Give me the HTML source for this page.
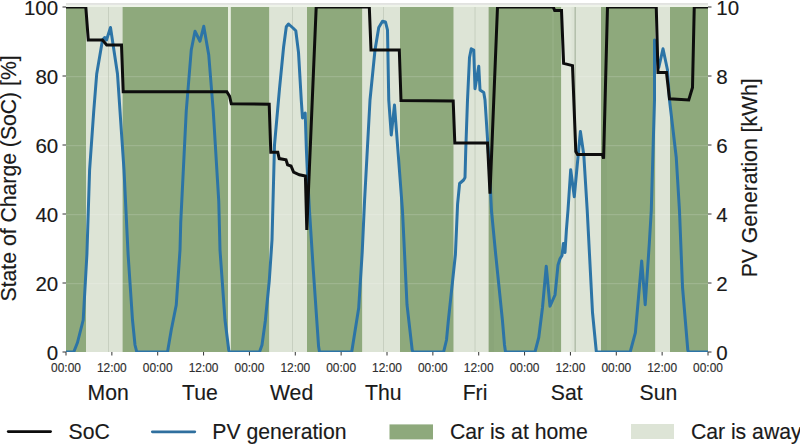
<!DOCTYPE html><html><head><meta charset="utf-8"><title>SoC and PV generation</title><style>
html,body{margin:0;padding:0;background:#fff;}
body{width:800px;height:444px;overflow:hidden;position:relative;}
svg{position:absolute;left:0;top:0;font-family:"Liberation Sans",sans-serif;}
</style></head><body>
<svg width="800" height="444" viewBox="0 0 800 444">
<rect x="0" y="0" width="800" height="444" fill="#ffffff"/>
<rect x="66" y="7.0" width="20.00" height="345.0" fill="#8ea97c"/>
<rect x="86" y="7.0" width="36.50" height="345.0" fill="#dde4d6"/>
<rect x="122.5" y="7.0" width="105.50" height="345.0" fill="#8ea97c"/>
<rect x="228" y="7.0" width="2.80" height="345.0" fill="#e8eedf"/>
<rect x="230.8" y="7.0" width="38.70" height="345.0" fill="#8ea97c"/>
<rect x="269.5" y="7.0" width="37.50" height="345.0" fill="#dde4d6"/>
<rect x="307" y="7.0" width="55.50" height="345.0" fill="#8ea97c"/>
<rect x="362.5" y="7.0" width="37.50" height="345.0" fill="#dde4d6"/>
<rect x="400" y="7.0" width="53.75" height="345.0" fill="#8ea97c"/>
<rect x="453.75" y="7.0" width="35.00" height="345.0" fill="#dde4d6"/>
<rect x="488.75" y="7.0" width="72.75" height="345.0" fill="#8ea97c"/>
<rect x="561.5" y="7.0" width="40.00" height="345.0" fill="#dde4d6"/>
<rect x="601.5" y="7.0" width="54.00" height="345.0" fill="#8ea97c"/>
<rect x="655.5" y="7.0" width="14.50" height="345.0" fill="#dde4d6"/>
<rect x="670" y="7.0" width="38.00" height="345.0" fill="#8ea97c"/>
<rect x="488.75" y="7.0" width="5.25" height="345.0" fill="#8aa579"/>
<rect x="601" y="7.0" width="6.00" height="345.0" fill="#8aa579"/>
<rect x="561.5" y="7.0" width="10" height="345.0" fill="#e2e8db"/>
<line x1="553" y1="7.0" x2="553" y2="352.0" stroke="#ffffff" stroke-opacity="0.12" stroke-width="1"/>
<rect x="66" y="4.8" width="642" height="2.2" fill="#eef3e9"/>
<rect x="66" y="3" width="642" height="1.9" fill="#e2e3e0"/>
<line x1="66.0" y1="283.70" x2="708.0" y2="283.70" stroke="#ffffff" stroke-opacity="0.18" stroke-width="1"/>
<line x1="66.0" y1="214.70" x2="708.0" y2="214.70" stroke="#ffffff" stroke-opacity="0.18" stroke-width="1"/>
<line x1="66.0" y1="145.70" x2="708.0" y2="145.70" stroke="#ffffff" stroke-opacity="0.18" stroke-width="1"/>
<line x1="66.0" y1="76.70" x2="708.0" y2="76.70" stroke="#ffffff" stroke-opacity="0.18" stroke-width="1"/>
<line x1="108.5" y1="7.0" x2="108.5" y2="352.0" stroke="#b9c2b0" stroke-opacity="0.6" stroke-width="1"/>
<line x1="292.5" y1="7.0" x2="292.5" y2="352.0" stroke="#b9c2b0" stroke-opacity="0.6" stroke-width="1"/>
<line x1="383.5" y1="7.0" x2="383.5" y2="352.0" stroke="#b9c2b0" stroke-opacity="0.6" stroke-width="1"/>
<line x1="475" y1="7.0" x2="475" y2="352.0" stroke="#b9c2b0" stroke-opacity="0.6" stroke-width="1"/>
<line x1="575.2" y1="7.0" x2="575.2" y2="352.0" stroke="#a3b09a" stroke-opacity="0.85" stroke-width="1.3"/>
<defs><clipPath id="pa"><rect x="66.0" y="7.0" width="642.0" height="345.0"/></clipPath></defs>
<g clip-path="url(#pa)">
<polyline points="66.00,352.00 73.75,352.00 77.50,342.50 83.20,320.00 86.90,254.50 89.60,170.00 93.75,111.00 96.70,74.00 102.50,40.00 104.70,37.50 106.50,40.00 110.50,27.50 117.50,74.00 120.00,111.00 124.00,170.00 128.10,254.50 132.50,320.00 135.00,345.00 136.80,352.00 167.50,352.00 171.25,330.00 176.25,305.00 180.00,250.00 180.75,222.00 186.25,111.00 191.25,50.00 195.00,31.25 200.00,41.25 203.75,26.25 208.75,55.00 213.25,111.00 218.75,201.00 220.00,250.00 225.00,320.00 228.75,350.00 229.50,352.00 259.50,352.00 262.00,345.00 265.30,321.00 269.30,280.50 272.00,240.00 274.50,145.00 279.60,87.60 283.60,47.00 286.30,26.80 288.50,24.00 293.00,28.00 295.80,30.80 298.50,52.40 301.30,100.60 302.50,118.00 305.20,113.00 306.40,150.00 307.50,175.00 309.50,211.00 313.30,270.00 318.60,346.60 319.50,352.00 351.70,352.00 358.70,308.00 362.20,252.40 364.60,200.00 370.00,100.00 375.00,50.00 378.75,27.50 382.50,21.25 385.50,22.00 387.50,30.00 388.75,100.00 391.25,135.00 394.50,105.00 402.50,211.00 407.00,304.70 412.20,350.00 413.00,352.00 443.60,352.00 446.50,340.00 448.40,320.00 455.40,254.50 457.60,203.80 459.60,183.50 463.60,180.00 465.00,177.50 465.75,150.00 467.50,100.00 469.50,57.50 471.25,48.75 473.75,50.00 475.00,88.75 478.75,66.25 480.00,90.00 483.75,92.50 485.00,100.00 489.50,170.00 491.50,211.00 495.70,254.50 502.40,320.00 504.50,345.00 505.50,352.00 535.00,352.00 538.75,337.50 542.50,307.50 546.25,266.25 550.00,306.25 555.00,295.00 558.00,265.00 560.00,258.75 562.00,255.40 563.40,243.40 565.00,252.40 566.40,230.00 568.00,210.00 570.70,169.70 574.30,196.70 580.40,131.40 583.80,155.00 587.20,210.00 592.50,312.50 596.25,351.00 597.00,352.00 630.20,352.00 635.40,332.70 641.70,261.00 645.20,304.70 649.40,242.00 651.25,211.00 654.50,100.00 654.50,40.00 658.75,67.50 663.00,48.75 667.50,70.00 669.50,100.00 676.25,157.50 679.50,211.00 682.50,287.00 687.80,350.00 688.50,352.00 708.00,352.00" fill="none" stroke="#2c74a6" stroke-width="3" stroke-linejoin="round" stroke-linecap="round"/>
<polyline points="66.00,7.00 85.80,7.00 88.30,40.00 102.50,40.00 106.70,45.00 121.50,45.00 123.20,91.70 226.80,91.70 229.50,96.00 231.30,103.80 269.20,104.20 270.80,152.20 277.80,152.30 279.20,158.60 286.00,159.80 287.60,164.80 291.00,166.00 293.60,172.20 299.40,174.80 305.40,176.00 306.80,230.00 316.20,7.00 369.30,7.00 371.00,50.00 399.30,50.00 401.00,100.50 453.20,101.00 454.80,143.00 487.50,143.00 490.00,193.80 497.50,7.00 553.20,7.00 554.70,10.50 561.50,10.50 563.60,63.40 572.50,65.60 575.80,151.50 577.50,154.50 602.50,154.50 603.60,158.60 607.50,7.00 656.25,7.00 658.00,72.50 666.50,72.50 669.50,98.80 688.75,100.00 692.50,87.50 694.25,7.00 708.00,7.00" fill="none" stroke="#0d0d0d" stroke-width="3" stroke-linejoin="miter" stroke-miterlimit="2"/>
</g>
<line x1="62.5" y1="352.00" x2="66.0" y2="352.00" stroke="#333" stroke-width="1"/>
<line x1="708.0" y1="352.00" x2="711.5" y2="352.00" stroke="#333" stroke-width="1"/>
<line x1="62.5" y1="283.00" x2="66.0" y2="283.00" stroke="#333" stroke-width="1"/>
<line x1="708.0" y1="283.00" x2="711.5" y2="283.00" stroke="#333" stroke-width="1"/>
<line x1="62.5" y1="214.00" x2="66.0" y2="214.00" stroke="#333" stroke-width="1"/>
<line x1="708.0" y1="214.00" x2="711.5" y2="214.00" stroke="#333" stroke-width="1"/>
<line x1="62.5" y1="145.00" x2="66.0" y2="145.00" stroke="#333" stroke-width="1"/>
<line x1="708.0" y1="145.00" x2="711.5" y2="145.00" stroke="#333" stroke-width="1"/>
<line x1="62.5" y1="76.00" x2="66.0" y2="76.00" stroke="#333" stroke-width="1"/>
<line x1="708.0" y1="76.00" x2="711.5" y2="76.00" stroke="#333" stroke-width="1"/>
<line x1="62.5" y1="7.00" x2="66.0" y2="7.00" stroke="#333" stroke-width="1"/>
<line x1="708.0" y1="7.00" x2="711.5" y2="7.00" stroke="#333" stroke-width="1"/>
<line x1="66.00" y1="352.0" x2="66.00" y2="355.5" stroke="#333" stroke-width="1"/>
<line x1="111.86" y1="352.0" x2="111.86" y2="355.5" stroke="#333" stroke-width="1"/>
<line x1="157.71" y1="352.0" x2="157.71" y2="355.5" stroke="#333" stroke-width="1"/>
<line x1="203.57" y1="352.0" x2="203.57" y2="355.5" stroke="#333" stroke-width="1"/>
<line x1="249.43" y1="352.0" x2="249.43" y2="355.5" stroke="#333" stroke-width="1"/>
<line x1="295.29" y1="352.0" x2="295.29" y2="355.5" stroke="#333" stroke-width="1"/>
<line x1="341.14" y1="352.0" x2="341.14" y2="355.5" stroke="#333" stroke-width="1"/>
<line x1="387.00" y1="352.0" x2="387.00" y2="355.5" stroke="#333" stroke-width="1"/>
<line x1="432.86" y1="352.0" x2="432.86" y2="355.5" stroke="#333" stroke-width="1"/>
<line x1="478.71" y1="352.0" x2="478.71" y2="355.5" stroke="#333" stroke-width="1"/>
<line x1="524.57" y1="352.0" x2="524.57" y2="355.5" stroke="#333" stroke-width="1"/>
<line x1="570.43" y1="352.0" x2="570.43" y2="355.5" stroke="#333" stroke-width="1"/>
<line x1="616.29" y1="352.0" x2="616.29" y2="355.5" stroke="#333" stroke-width="1"/>
<line x1="662.14" y1="352.0" x2="662.14" y2="355.5" stroke="#333" stroke-width="1"/>
<line x1="708.00" y1="352.0" x2="708.00" y2="355.5" stroke="#333" stroke-width="1"/>
<text x="58.20" y="359.84" font-size="20.5" text-anchor="end" fill="#1a1a1a" stroke="#1a1a1a" stroke-width="0.15" >0</text>
<text x="58.20" y="290.84" font-size="20.5" text-anchor="end" fill="#1a1a1a" stroke="#1a1a1a" stroke-width="0.15" >20</text>
<text x="58.20" y="221.84" font-size="20.5" text-anchor="end" fill="#1a1a1a" stroke="#1a1a1a" stroke-width="0.15" >40</text>
<text x="58.20" y="152.84" font-size="20.5" text-anchor="end" fill="#1a1a1a" stroke="#1a1a1a" stroke-width="0.15" >60</text>
<text x="58.20" y="83.84" font-size="20.5" text-anchor="end" fill="#1a1a1a" stroke="#1a1a1a" stroke-width="0.15" >80</text>
<text x="58.20" y="14.84" font-size="20.5" text-anchor="end" fill="#1a1a1a" stroke="#1a1a1a" stroke-width="0.15" >100</text>
<text x="716.30" y="359.84" font-size="20.5" text-anchor="start" fill="#1a1a1a" stroke="#1a1a1a" stroke-width="0.15" >0</text>
<text x="716.30" y="290.84" font-size="20.5" text-anchor="start" fill="#1a1a1a" stroke="#1a1a1a" stroke-width="0.15" >2</text>
<text x="716.30" y="221.84" font-size="20.5" text-anchor="start" fill="#1a1a1a" stroke="#1a1a1a" stroke-width="0.15" >4</text>
<text x="716.30" y="152.84" font-size="20.5" text-anchor="start" fill="#1a1a1a" stroke="#1a1a1a" stroke-width="0.15" >6</text>
<text x="716.30" y="83.84" font-size="20.5" text-anchor="start" fill="#1a1a1a" stroke="#1a1a1a" stroke-width="0.15" >8</text>
<text x="716.30" y="14.84" font-size="20.5" text-anchor="start" fill="#1a1a1a" stroke="#1a1a1a" stroke-width="0.15" >10</text>
<text x="66.00" y="371.50" font-size="11.9" text-anchor="middle" fill="#2e2e2e" stroke="#2e2e2e" stroke-width="0.15" >00:00</text>
<text x="111.86" y="371.50" font-size="11.9" text-anchor="middle" fill="#2e2e2e" stroke="#2e2e2e" stroke-width="0.15" >12:00</text>
<text x="157.71" y="371.50" font-size="11.9" text-anchor="middle" fill="#2e2e2e" stroke="#2e2e2e" stroke-width="0.15" >00:00</text>
<text x="203.57" y="371.50" font-size="11.9" text-anchor="middle" fill="#2e2e2e" stroke="#2e2e2e" stroke-width="0.15" >12:00</text>
<text x="249.43" y="371.50" font-size="11.9" text-anchor="middle" fill="#2e2e2e" stroke="#2e2e2e" stroke-width="0.15" >00:00</text>
<text x="295.29" y="371.50" font-size="11.9" text-anchor="middle" fill="#2e2e2e" stroke="#2e2e2e" stroke-width="0.15" >12:00</text>
<text x="341.14" y="371.50" font-size="11.9" text-anchor="middle" fill="#2e2e2e" stroke="#2e2e2e" stroke-width="0.15" >00:00</text>
<text x="387.00" y="371.50" font-size="11.9" text-anchor="middle" fill="#2e2e2e" stroke="#2e2e2e" stroke-width="0.15" >12:00</text>
<text x="432.86" y="371.50" font-size="11.9" text-anchor="middle" fill="#2e2e2e" stroke="#2e2e2e" stroke-width="0.15" >00:00</text>
<text x="478.71" y="371.50" font-size="11.9" text-anchor="middle" fill="#2e2e2e" stroke="#2e2e2e" stroke-width="0.15" >12:00</text>
<text x="524.57" y="371.50" font-size="11.9" text-anchor="middle" fill="#2e2e2e" stroke="#2e2e2e" stroke-width="0.15" >00:00</text>
<text x="570.43" y="371.50" font-size="11.9" text-anchor="middle" fill="#2e2e2e" stroke="#2e2e2e" stroke-width="0.15" >12:00</text>
<text x="616.29" y="371.50" font-size="11.9" text-anchor="middle" fill="#2e2e2e" stroke="#2e2e2e" stroke-width="0.15" >00:00</text>
<text x="662.14" y="371.50" font-size="11.9" text-anchor="middle" fill="#2e2e2e" stroke="#2e2e2e" stroke-width="0.15" >12:00</text>
<text x="708.00" y="371.50" font-size="11.9" text-anchor="middle" fill="#2e2e2e" stroke="#2e2e2e" stroke-width="0.15" >00:00</text>
<text x="108.16" y="400.20" font-size="21.2" text-anchor="middle" fill="#1a1a1a" stroke="#1a1a1a" stroke-width="0.15" >Mon</text>
<text x="199.87" y="400.20" font-size="21.2" text-anchor="middle" fill="#1a1a1a" stroke="#1a1a1a" stroke-width="0.15" >Tue</text>
<text x="291.59" y="400.20" font-size="21.2" text-anchor="middle" fill="#1a1a1a" stroke="#1a1a1a" stroke-width="0.15" >Wed</text>
<text x="383.30" y="400.20" font-size="21.2" text-anchor="middle" fill="#1a1a1a" stroke="#1a1a1a" stroke-width="0.15" >Thu</text>
<text x="475.01" y="400.20" font-size="21.2" text-anchor="middle" fill="#1a1a1a" stroke="#1a1a1a" stroke-width="0.15" >Fri</text>
<text x="566.73" y="400.20" font-size="21.2" text-anchor="middle" fill="#1a1a1a" stroke="#1a1a1a" stroke-width="0.15" >Sat</text>
<text x="658.44" y="400.20" font-size="21.2" text-anchor="middle" fill="#1a1a1a" stroke="#1a1a1a" stroke-width="0.15" >Sun</text>
<text transform="translate(16.2,178.4) rotate(-90)" font-size="21.2" text-anchor="middle" fill="#1a1a1a" stroke="#1a1a1a" stroke-width="0.15">State of Charge (SoC) [%]</text>
<text transform="translate(757,177.8) rotate(-90)" font-size="21.2" text-anchor="middle" fill="#1a1a1a" stroke="#1a1a1a" stroke-width="0.15">PV Generation [kWh]</text>
<line x1="8.2" y1="431.6" x2="50.6" y2="431.6" stroke="#0d0d0d" stroke-width="2.7" stroke-linecap="round"/>
<text x="68.50" y="438.80" font-size="21.2" text-anchor="start" fill="#1a1a1a" stroke="#1a1a1a" stroke-width="0.15" >SoC</text>
<line x1="152.3" y1="431.8" x2="194.8" y2="431.8" stroke="#2f6f9e" stroke-width="2.7" stroke-linecap="round"/>
<text x="212.30" y="438.80" font-size="21.2" text-anchor="start" fill="#1a1a1a" stroke="#1a1a1a" stroke-width="0.15" >PV generation</text>
<rect x="389.5" y="424.4" width="43.5" height="15" fill="#8ea97c"/>
<text x="449.90" y="438.80" font-size="21.2" text-anchor="start" fill="#1a1a1a" stroke="#1a1a1a" stroke-width="0.15" >Car is at home</text>
<rect x="631" y="424" width="43" height="15" fill="#dde4d6"/>
<text x="690.90" y="438.80" font-size="21.2" text-anchor="start" fill="#1a1a1a" stroke="#1a1a1a" stroke-width="0.15" >Car is away</text>
</svg>
</body></html>
